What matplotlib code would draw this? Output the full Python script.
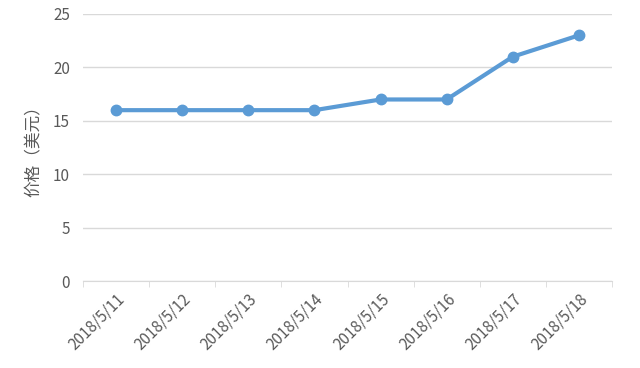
import numpy as np
import matplotlib
matplotlib.use("Agg")
from matplotlib import pyplot as plt

plt.rcParams['font.family'] = ['Noto Sans CJK SC', 'DejaVu Sans']

dates = ["2018/5/11", "2018/5/12", "2018/5/13", "2018/5/14",
         "2018/5/15", "2018/5/16", "2018/5/17", "2018/5/18"]
prices = [16, 16, 16, 16, 17, 17, 21, 23]
yticks = [0, 5, 10, 15, 20, 25]

text_color = '#595959'
grid_color = '#d9d9d9'
line_color = '#5b9bd5'

fig = plt.figure(figsize=(6.4, 3.68), dpi=100)
ax = fig.add_axes([0.13, 0.236, 0.826, 0.726])

x = np.arange(len(dates))
ax.plot(x, prices, color=line_color, linewidth=3, marker='o', markersize=7.5, zorder=3)

ax.set_xlim(-0.5, len(dates) - 0.5)
ax.set_ylim(0, 25)
ax.set_yticks(yticks)
ax.yaxis.grid(True, color=grid_color, linewidth=1)
ax.set_axisbelow(True)

# category labels centered, tick marks on the boundaries
ax.set_xticks(x)
ax.set_xticklabels(dates, rotation=45, ha='right', rotation_mode='anchor')
ax.set_xticks(np.arange(-0.5, len(dates)), minor=True)
ax.tick_params(axis='x', which='major', length=0, pad=7, labelsize=11, labelcolor=text_color)
ax.tick_params(axis='x', which='minor', length=4, color=grid_color, direction='out')
ax.tick_params(axis='y', length=0, pad=9.5, labelsize=11, labelcolor=text_color)

for s in ['top', 'right', 'left']:
    ax.spines[s].set_visible(False)
ax.spines['bottom'].set_color(grid_color)

ax.set_ylabel("价格（美元）", fontsize=12, color=text_color, labelpad=7)

fig.savefig("out.png", dpi=100)
